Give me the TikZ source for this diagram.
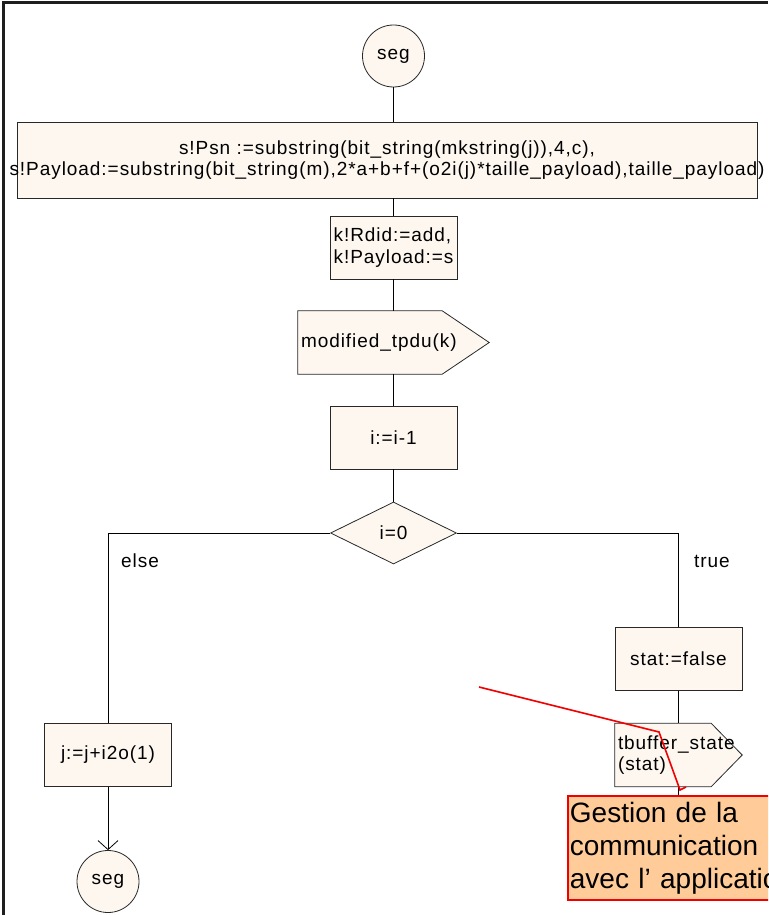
\documentclass[tikz,border=0pt]{standalone}
\usepackage{fontspec}
\setmainfont{Liberation Sans}
\newfontfamily\sdlfont[LetterSpace=5]{Liberation Sans}
\usetikzlibrary{shapes.geometric,arrows.meta,backgrounds}

\definecolor{cream}{RGB}{253,247,240}
\definecolor{edge}{RGB}{40,40,40}
\definecolor{peach}{RGB}{255,204,153}
\definecolor{noteRed}{RGB}{240,0,0}
\definecolor{frameGray}{RGB}{30,30,30}

\tikzset{
  sdltext/.style={font=\sdlfont\fontsize{19}{21.5}\selectfont, text=black},
  sdlshape/.style={draw=edge, fill=cream, line width=0.8pt},
  taskbox/.style={sdlshape, sdltext, rectangle, minimum width=127pt,
    minimum height=63pt, inner sep=2pt, align=center},
  connector/.style={sdlshape, sdltext, circle, minimum size=62pt, inner sep=0pt},
  decision/.style={sdlshape, sdltext, diamond, minimum width=126pt,
    minimum height=62pt, inner sep=0pt},
  outbox/.style={sdltext, rectangle, minimum height=63pt, inner xsep=3pt,
    inner ysep=2pt, align=left},
  outline/.style={draw=edge, fill=cream, line width=0.8pt},
  flow/.style={draw=black, line width=0.8pt},
  branchlabel/.style={sdltext, anchor=west, inner sep=0pt},
  notebox/.style={draw=noteRed, fill=peach, line width=1.8pt,
    font=\fontsize{28}{33}\selectfont, align=left, text width=256pt,
    inner xsep=2pt, inner ysep=6pt, anchor=north west},
  callout/.style={draw=noteRed, line width=1.6pt},
}

\begin{document}
\begin{tikzpicture}[x=1pt, y=-1pt]
  \useasboundingbox (0,0) rectangle (768,915);
  \clip (0,0) rectangle (768,915);

  % page frame
  \draw[frameGray, line width=3pt] (3.5,915) -- (3.5,2.5) -- (768,2.5);

  % main column
  \node[connector] (segtop) at (393.5,56) {seg};
  \node[taskbox, minimum width=740pt, minimum height=76pt] (assign) at (387,160)
    {\makebox[0pt]{s!Psn :=substring(bit\_string(mkstring(j)),4,c),}\\
     \makebox[0pt]{s!Payload:=substring(bit\_string(m),2*a+b+f+(o2i(j)*taille\_payload),taille\_payload)}};
  \node[taskbox, align=left] (kbox) at (393.5,247.5) {k!Rdid:=add,\\k!Payload:=s};
  \node[outbox, text width=185pt] (out1) at (393.5,342.5) {modified\_tpdu(k)};
  \node[taskbox] (ibox) at (393.5,437.5) {i:=i-1};
  \node[decision] (dec) at (393.5,533) {i=0};

  % branches
  \node[branchlabel] (elselbl) at (121,561) {else};
  \node[branchlabel] (truelbl) at (694,561) {true};
  \node[taskbox] (statbox) at (678.5,659) {stat:=false};
  \node[outbox, text width=121pt] (tbuf) at (678.5,755) {tbuffer\_state\\(stat)};
  \node[taskbox] (jbox) at (108,755) {j:=j+i2o(1)};
  \node[connector] (segbot) at (108,881.5) {seg};

  % output symbols (pentagons) behind their texts
  \begin{scope}[on background layer]
    \path[outline] (out1.north west) -- ([xshift=-47pt]out1.north east)
      -- (out1.east) -- ([xshift=-47pt]out1.south east)
      -- (out1.south west) -- cycle;
    \path[outline] (tbuf.north west) -- ([xshift=-31pt]tbuf.north east)
      -- (tbuf.east) -- ([xshift=-31pt]tbuf.south east)
      -- (tbuf.south west) -- cycle;
  \end{scope}

  % flow lines
  \draw[flow] (segtop.south) -- (segtop.south |- assign.north);
  \draw[flow] (assign.south -| kbox) -- (kbox.north);
  \draw[flow] (kbox.south) -- (out1.north);
  \draw[flow] (out1.south) -- (ibox.north);
  \draw[flow] (ibox.south) -- (dec.north);
  \draw[flow] (dec.west) -- (dec.west -| jbox) -- (jbox.north);
  \draw[flow] (dec.east) -- (dec.east -| statbox) -- (statbox.north);
  \draw[flow] (statbox.south) -- (tbuf.north);
  \draw[flow, -{Straight Barb[length=9pt,width=20pt]}] (jbox.south) -- (segbot.north);

  % comment box with its callout line
  \node[notebox] (note) at (567,795) {Gestion de la\\communication\\avec l’ application};
  \draw[flow] (tbuf.south) -- (note.north -| tbuf);
  \coordinate (calloutTip) at (479,687);
  \draw[callout] (calloutTip) -- (659,732) -- (680,790) -- (686,787);
\end{tikzpicture}
\end{document}
